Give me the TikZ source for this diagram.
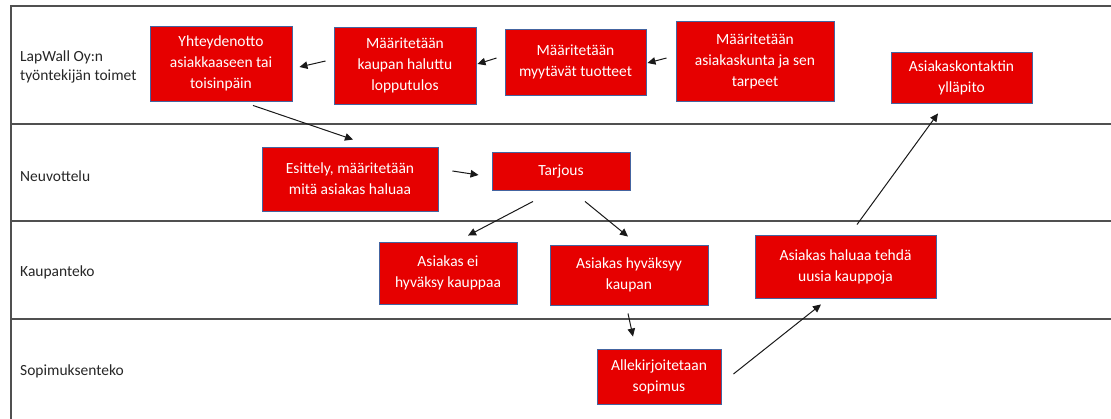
\documentclass[tikz,border=0pt]{standalone}
\usepackage{fontspec}
\setmainfont{Carlito}
\usetikzlibrary{arrows.meta,calc}
\definecolor{boxred}{RGB}{230,0,0}
\definecolor{boxedge}{RGB}{68,100,160}
\definecolor{laneline}{RGB}{80,80,80}
\definecolor{labeltext}{RGB}{38,38,38}
\begin{document}
\begin{tikzpicture}[x=1pt,y=-1pt,
  stepbox/.style={draw=boxedge,line width=0.9pt,fill=boxred,text=white,
    align=center,inner sep=0pt,font=\fontsize{15.5}{21}\selectfont},
  lanelabel/.style={anchor=west,align=left,inner sep=0pt,text=labeltext,
    font=\fontsize{15.5}{19}\selectfont},
  lane/.style={draw=laneline,line width=1.2pt},
  arr/.style={draw=black!90,line width=1pt,-{Triangle[length=8pt,width=7.5pt]}}]
\useasboundingbox (0,0) rectangle (1111,419);
% swimlane frame
\coordinate (tl) at (11,6);
\coordinate (bl) at (11,419);
\draw[lane] (bl) -- (tl) -- (1111,6);
\draw[lane] (11,124) -- (1111,124);
\draw[lane] (11,221) -- (1111,221);
\draw[lane] (11,319) -- (1111,319);
% lane titles
\node[lanelabel] (l1) at (20,67) {LapWall Oy:n\\työntekijän toimet};
\node[lanelabel] (l2) at (20,176) {Neuvottelu};
\node[lanelabel] (l3) at (20,272) {Kaupanteko};
\node[lanelabel] (l4) at (20,371) {Sopimuksenteko};
% process steps
\node[stepbox,minimum width=142pt,minimum height=75pt] (b1) at (221,63.5) {Yhteydenotto\\asiakkaaseen tai\\toisinpäin};
\node[stepbox,minimum width=142pt,minimum height=77pt] (b2) at (405,65.5) {Määritetään\\kaupan haluttu\\lopputulos};
\node[stepbox,minimum width=141pt,minimum height=66pt] (b3) at (575.5,62) {Määritetään\\myytävät tuotteet};
\node[stepbox,minimum width=158pt,minimum height=80pt] (b4) at (755,61) {Määritetään\\asiakaskunta ja sen\\tarpeet};
\node[stepbox,minimum width=141pt,minimum height=51pt] (b5) at (961.5,77.5) {Asiakaskontaktin\\ylläpito};
\node[stepbox,minimum width=176pt,minimum height=64pt] (b6) at (350,179) {Esittely, määritetään\\mitä asiakas haluaa};
\node[stepbox,minimum width=138pt,minimum height=38pt] (b7) at (561,171) {Tarjous};
\node[stepbox,minimum width=138pt,minimum height=62pt] (b8) at (448,273) {Asiakas ei\\hyväksy kauppaa};
\node[stepbox,minimum width=158pt,minimum height=60pt] (b9) at (629,275) {Asiakas hyväksyy\\kaupan};
\node[stepbox,minimum width=124pt,minimum height=55pt] (b10) at (659,376.5) {Allekirjoitetaan\\sopimus};
\node[stepbox,minimum width=181pt,minimum height=63pt] (b11) at (845.5,266.5) {Asiakas haluaa tehdä\\uusia kauppoja};
% flow
\draw[arr] ($(b4.west)+(-9,-3)$) -- ($(b3.east)+(1,1)$);
\draw[arr] ($(b3.west)+(-8,-4)$) -- ($(b2.east)+(1,-1.5)$);
\draw[arr] ($(b2.west)+(-8,-4.5)$) -- ($(b1.east)+(7,3.5)$);
\draw[arr] ($(b1.south)+(32,4)$) -- ($(b6.north)+(3,-7)$);
\draw[arr] ($(b6.east)+(14,-8)$) -- ($(b7.west)+(-13,4)$);
\draw[arr] ($(b7.south)+(-28,11)$) -- ($(b8.north)+(20,-6)$);
\draw[arr] ($(b7.south)+(24,11)$) -- ($(b9.north)+(-1,-8)$);
\draw[arr] ($(b9.south)+(-1,8)$) -- ($(b10.north)+(-26,-12)$);
\draw[arr] ($(b10.east)+(12,-2.5)$) -- ($(b11.south)+(-24.5,6)$);
\draw[arr] ($(b11.north)+(11.5,-10)$) -- ($(b5.south)+(-23.5,10)$);
\end{tikzpicture}
\end{document}
